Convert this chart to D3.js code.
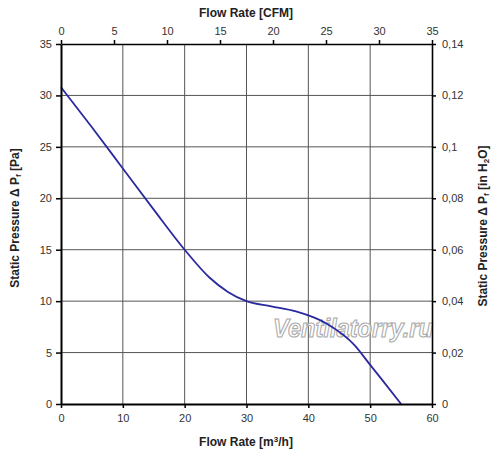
<!DOCTYPE html>
<html><head><meta charset="utf-8">
<script src="https://cdn.jsdelivr.net/npm/d3@7"></script>
<style>
body{margin:0;background:#fff;}
text{font-family:"Liberation Sans",Arial,sans-serif;}
</style></head>
<body><svg id="c" width="500" height="460"></svg>
<script>
const flowM3h = [0, 5, 10, 15, 20, 24, 27, 30, 34, 38, 43, 47.5, 50, 52, 55];
const pressurePa = [30.8, 26.9, 22.9, 18.9, 15.0, 12.3, 10.9, 10.0, 9.5, 9.0, 7.8, 5.7, 3.8, 2.3, 0];
const bottomTicks = [0, 10, 20, 30, 40, 50, 60];
const topTicks = [0, 5, 10, 15, 20, 25, 30, 35];
const leftTicks = [0, 5, 10, 15, 20, 25, 30, 35];
const rightTicks = [0, 0.02, 0.04, 0.06, 0.08, 0.1, 0.12, 0.14];

const svg = d3.select("#c");
const L = 61, R = 432, T = 44, B = 404;
const x = d3.scaleLinear().domain([0, 60]).range([L, R]);
const xTop = d3.scaleLinear().domain([0, 35]).range([L, R]);
const y = d3.scaleLinear().domain([0, 35]).range([B, T]);
const yRight = d3.scaleLinear().domain([0, 0.14]).range([B, T]);

// grid
const g = svg.append("g");
g.selectAll("line.v").data(bottomTicks.slice(1, -1)).enter().append("line")
  .attr("x1", d => x(d)).attr("x2", d => x(d)).attr("y1", T).attr("y2", B)
  .attr("stroke", "#555").attr("stroke-width", 1);
g.selectAll("line.h").data(leftTicks.slice(1, -1)).enter().append("line")
  .attr("x1", L).attr("x2", R).attr("y1", d => y(d)).attr("y2", d => y(d))
  .attr("stroke", "#555").attr("stroke-width", 1);

// watermark
svg.append("text").attr("x", 273).attr("y", 337)
  .attr("font-size", 25).attr("font-weight", "bold").attr("font-style", "italic")
  .attr("textLength", 160).attr("lengthAdjust", "spacingAndGlyphs")
  .attr("fill", "#fff").attr("fill-opacity", 0.6)
  .attr("stroke", "#aaa").attr("stroke-width", 1.1)
  .text("Ventilatorry.ru");

// curve
const data = flowM3h.map((f, i) => [f, pressurePa[i]]);
svg.append("path").datum(data)
  .attr("d", d3.line().x(d => x(d[0])).y(d => y(d[1])).curve(d3.curveMonotoneX))
  .attr("fill", "none").attr("stroke", "#2a2aa0").attr("stroke-width", 1.8);

function styleAxis(sel, w) {
  sel.selectAll("path.domain").attr("stroke", "#000").attr("stroke-width", w);
  sel.selectAll(".tick line").attr("stroke", "#000").attr("stroke-width", 1.5);
  sel.selectAll(".tick text").attr("fill", "#333").attr("font-size", 11)
    .attr("font-family", "Liberation Sans, Arial, sans-serif");
}
const fmtComma = d => d === 0 ? "0" : String(d).replace(".", ",");

styleAxis(svg.append("g").attr("transform", `translate(0,${B})`)
  .call(d3.axisBottom(x).tickValues(bottomTicks).tickSize(4).tickSizeOuter(0).tickPadding(6)), 2);
styleAxis(svg.append("g").attr("transform", `translate(0,${T})`)
  .call(d3.axisTop(xTop).tickValues(topTicks).tickSize(4).tickSizeOuter(0).tickPadding(5)), 1.6);
styleAxis(svg.append("g").attr("transform", `translate(${L},0)`)
  .call(d3.axisLeft(y).tickValues(leftTicks).tickSize(5).tickSizeOuter(0).tickPadding(4)), 2);
styleAxis(svg.append("g").attr("transform", `translate(${R},0)`)
  .call(d3.axisRight(yRight).tickValues(rightTicks).tickFormat(fmtComma).tickSize(4).tickSizeOuter(0).tickPadding(6)), 1.6);

// titles
svg.append("text").attr("x", 246).attr("y", 17).attr("text-anchor", "middle")
  .attr("font-size", 12).attr("font-weight", "bold").attr("fill", "#222").text("Flow Rate [CFM]");
const bt = svg.append("text").attr("x", 246).attr("y", 446).attr("text-anchor", "middle")
  .attr("font-size", 12).attr("font-weight", "bold").attr("fill", "#222");
bt.append("tspan").text("Flow Rate [m");
bt.append("tspan").attr("font-size", 8).attr("dy", -4).text("3");
bt.append("tspan").attr("dy", 4).text("/h]");

const lt = svg.append("text").attr("transform", "translate(19,218) rotate(-90)")
  .attr("text-anchor", "middle").attr("font-size", 12).attr("font-weight", "bold").attr("fill", "#222");
lt.append("tspan").text("Static Pressure Δ P");
lt.append("tspan").attr("font-size", 8).attr("dy", 2).text("f");
lt.append("tspan").attr("dy", -2).text(" [Pa]");

const rt = svg.append("text").attr("transform", "translate(487,226) rotate(-90)")
  .attr("text-anchor", "middle").attr("font-size", 12).attr("font-weight", "bold").attr("fill", "#222");
rt.append("tspan").text("Static Pressure Δ P");
rt.append("tspan").attr("font-size", 8).attr("dy", 2).text("f");
rt.append("tspan").attr("dy", -2).text(" [in H");
rt.append("tspan").attr("font-size", 8).attr("dy", 2).text("2");
rt.append("tspan").attr("dy", -2).text("O]");
</script></body></html>
